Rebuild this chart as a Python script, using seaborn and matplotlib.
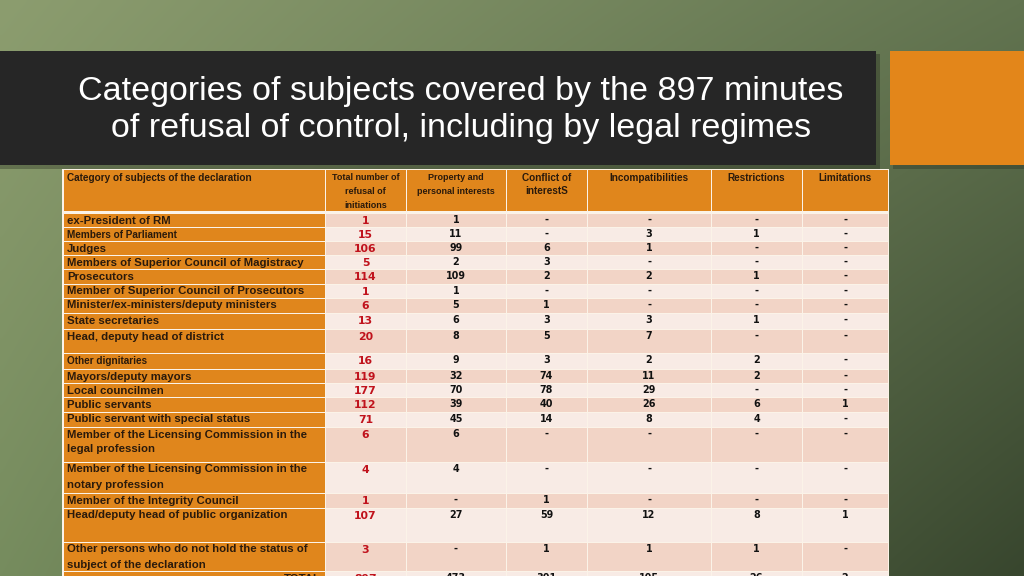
import numpy as np
import matplotlib.pyplot as plt
import matplotlib.patches as mpatches
import seaborn as sns

# Table content
headers = ["Category of subjects of the declaration",
           "Total number of\nrefusal of\ninitiations",
           "Property and\npersonal interests",
           "Conflict of\ninterestS",
           "Incompatibilities",
           "Restrictions",
           "Limitations"]

categories = ["ex-President of RM",
              "Members of Parliament",
              "Judges",
              "Members of Superior Council of Magistracy",
              "Prosecutors",
              "Member of Superior Council of Prosecutors",
              "Minister/ex-ministers/deputy ministers",
              "State secretaries",
              "Head, deputy head of district",
              "Other dignitaries",
              "Mayors/deputy mayors",
              "Local councilmen",
              "Public servants",
              "Public servant with special status",
              "Member of the Licensing Commission in the\nlegal profession",
              "Member of the Licensing Commission in the\nnotary profession",
              "Member of the Integrity Council",
              "Head/deputy head of public organization",
              "Other persons who do not hold the status of\nsubject of the declaration"]

total_refusals = [1, 15, 106, 5, 114, 1, 6, 13, 20, 16, 119, 177, 112, 71, 6, 4, 1, 107, 3]
property_interests = [1, 11, 99, 2, 109, 1, 5, 6, 8, 9, 32, 70, 39, 45, 6, 4, None, 27, None]
conflict_interests = [None, None, 6, 3, 2, None, 1, 3, 5, 3, 74, 78, 40, 14, None, None, 1, 59, 1]
incompatibilities = [None, 3, 1, None, 2, None, None, 3, 7, 2, 11, 29, 26, 8, None, None, None, 12, 1]
restrictions = [None, 1, None, None, 1, None, None, 1, None, 2, 2, None, 6, 4, None, None, None, 8, 1]
limitations = [None, None, None, None, None, None, None, None, None, None, None, None, 1, None,
               None, None, None, 1, None]
totals = ["TOTAL", 897, 473, 301, 105, 26, 2]

title = "Categories of subjects covered by the 897 minutes\nof refusal of control, including by legal regimes"

# Layout (pixels)
W, H = 1024, 576
col_edges = [63, 325, 406, 506, 587, 711, 802, 888]
header_top, header_bottom = 170, 211
row_edges = [213, 227, 241, 255, 269, 284, 298, 313, 329, 353, 369, 383, 397, 412,
             427, 462, 493, 508, 542, 571, 600]
small_rows = {"Members of Parliament", "Other dignitaries"}
LINE_STEP = 15

ORANGE = "#e0861c"
PINK_DARK = "#f2d4c6"
PINK_LIGHT = "#f8ebe5"
TEXT_DARK = "#2a1a0c"
RED = "#c0121c"

sns.set_theme(style="white")
plt.rcParams['font.family'] = ['Liberation Sans', 'DejaVu Sans']

fig = plt.figure(figsize=(10.24, 5.76), dpi=100)
ax = fig.add_axes([0, 0, 1, 1])
ax.set_xlim(0, W)
ax.set_ylim(H, 0)
ax.axis('off')

# green gradient background
gx = np.linspace(0, 1, 256)[None, :, None]
gy = np.linspace(0, 1, 144)[:, None, None]
tl = np.array([140, 157, 111]) / 255
tr = np.array([98, 116, 80]) / 255
bl = np.array([118, 140, 94]) / 255
br = np.array([56, 70, 46]) / 255
grad = (tl * (1 - gx) * (1 - gy) + tr * gx * (1 - gy) + bl * (1 - gx) * gy + br * gx * gy)
ax.imshow(grad, extent=(0, W, H, 0), aspect='auto', zorder=0, interpolation='bicubic')

# title band with shadow and orange box
ax.add_patch(mpatches.Rectangle((0, 54), 880, 115, color='black', alpha=0.25, zorder=1, lw=0))
ax.add_patch(mpatches.Rectangle((0, 51), 876, 114, color='#262626', zorder=2, lw=0))
ax.add_patch(mpatches.Rectangle((893, 54), 134, 115, color='black', alpha=0.2, zorder=1, lw=0))
ax.add_patch(mpatches.Rectangle((890, 51), 134, 114, color='#e3861a', zorder=2, lw=0))
ax.text(461, 110, title, color='white', fontsize=24.5, ha='center', va='center',
        linespacing=1.24, zorder=3)

# table frame
ax.add_patch(mpatches.Rectangle((col_edges[0] - 1, header_top - 1), col_edges[-1] - col_edges[0] + 2,
                                H - header_top + 2, color='#fbf3e8', zorder=3, lw=0))

# header cells
for j, name in enumerate(headers):
    x0, x1 = col_edges[j], col_edges[j + 1]
    ax.add_patch(mpatches.Rectangle((x0 + 0.5, header_top), x1 - x0 - 1, header_bottom - header_top,
                                    color=ORANGE, zorder=4, lw=0))
    if j == 0:
        ax.text(x0 + 4, header_top + 3, name, fontsize=7.2, color=TEXT_DARK, ha='left', va='top',
                fontweight='bold', zorder=5)
    else:
        small = j in (1, 2)
        ax.text((x0 + x1) / 2, header_top + 3, name, fontsize=6.5 if small else 7.2,
                color=TEXT_DARK, ha='center', va='top', fontweight='bold',
                linespacing=1.7 if small else 1.4, zorder=5)

# body rows
columns = [total_refusals, property_interests, conflict_interests, incompatibilities,
           restrictions, limitations]
for i, label in enumerate(categories + [totals[0]]):
    y0, y1 = row_edges[i], row_edges[i + 1]
    shade = PINK_DARK if i % 2 == 0 else PINK_LIGHT
    for j in range(len(col_edges) - 1):
        x0, x1 = col_edges[j], col_edges[j + 1]
        ax.add_patch(mpatches.Rectangle((x0 + 0.5, y0 + 0.5), x1 - x0 - 1, y1 - y0 - 1,
                                        color=ORANGE if j == 0 else shade, zorder=4, lw=0))
    base = y0 + 10.5
    if i < len(categories):
        fs = 7.2 if label in small_rows else 8.2
        for k, line in enumerate(label.split("\n")):
            ax.text(col_edges[0] + 4, base + k * LINE_STEP, line, fontsize=fs, color=TEXT_DARK,
                    ha='left', va='baseline', fontweight='bold', zorder=5)
        values = [col[i] for col in columns]
    else:
        ax.text(col_edges[1] - 4, base, label, fontsize=8.2, color=TEXT_DARK, ha='right',
                va='baseline', fontweight='bold', zorder=5)
        values = totals[1:]
    for j, v in enumerate(values, start=1):
        cx = (col_edges[j] + col_edges[j + 1]) / 2
        txt = "-" if v is None else str(v)
        if j == 1:
            ax.text(cx, base + 0.5, txt, fontsize=7.8, color=RED, ha='center', va='baseline',
                    fontweight='bold', family='DejaVu Sans', zorder=5)
        else:
            ax.text(cx, base - 0.5, txt, fontsize=6.9, color='#111111', ha='center',
                    va='baseline', fontweight='bold', family='DejaVu Sans', zorder=5)

fig.savefig("out.png", dpi=100)
